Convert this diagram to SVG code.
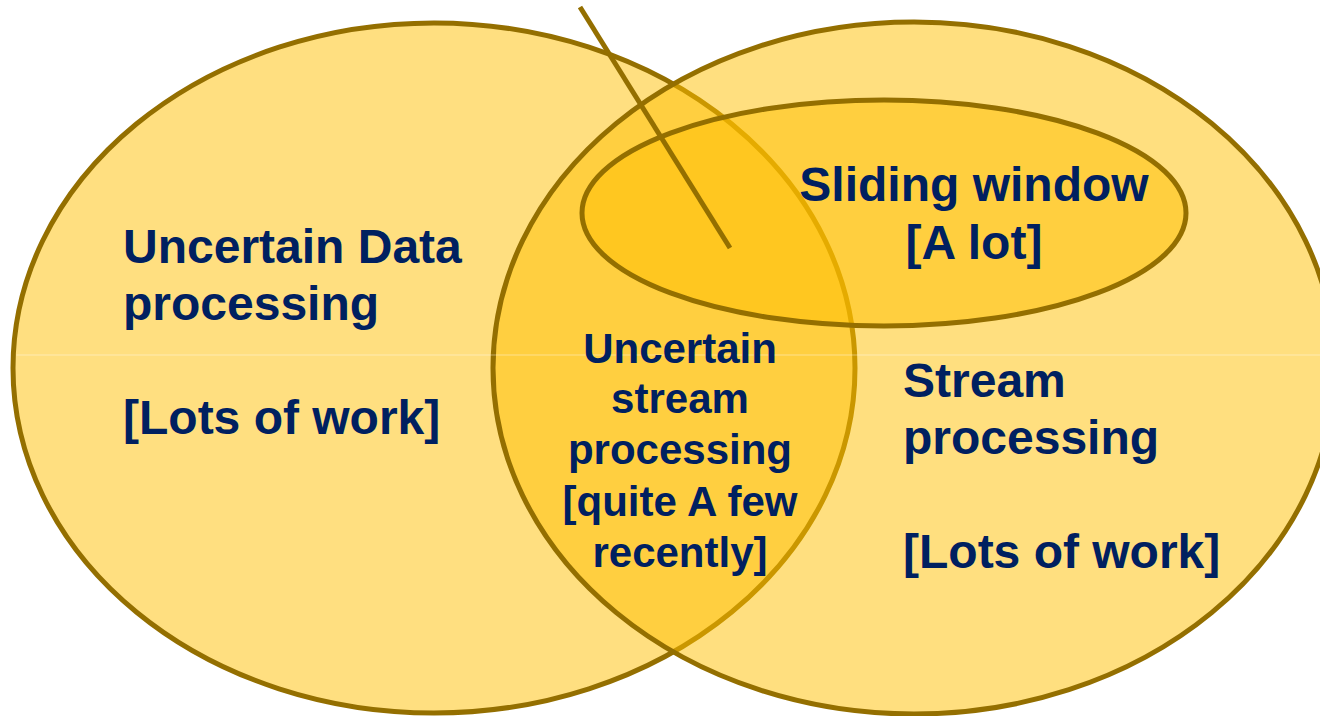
<svg xmlns="http://www.w3.org/2000/svg" width="1320" height="716" viewBox="0 0 1320 716">
<style>
.set{stroke:#946F00;stroke-width:5}
.lbl{font-family:"Liberation Sans",Arial,sans-serif;font-weight:bold;font-size:48px;fill:#002060}
.mid{font-size:42px;text-anchor:middle}
.ctr{text-anchor:middle}
</style>
<defs>
<clipPath id="union">
<ellipse cx="434" cy="368" rx="418" ry="342"/>
<ellipse cx="914" cy="368" rx="418" ry="343"/>
</clipPath>
</defs>
<rect width="1320" height="716" fill="#ffffff"/>
<g id="uncertain-data">
<ellipse class="set" cx="434" cy="368" rx="421" ry="345" fill="#FFDF80"/>
</g>
<g id="stream">
<ellipse class="set" cx="914" cy="368" rx="421" ry="346" fill="#FFC000" fill-opacity="0.5"/>
</g>
<g id="sliding-window">
<ellipse class="set" cx="884" cy="213" rx="302" ry="113" fill="#FFC000" fill-opacity="0.5"/>
</g>
<line x1="0" y1="355" x2="1320" y2="355" stroke="#ffffff" stroke-opacity="0.4" stroke-width="1" clip-path="url(#union)"/>
<g id="connectors">
<line x1="580" y1="7" x2="730" y2="248" stroke="#946F00" stroke-width="5"/>
</g>
<g id="label-uncertain-data">
<text class="lbl" x="123" y="263">Uncertain Data</text>
<text class="lbl" x="123" y="320">processing</text>
<text class="lbl" x="123" y="434">[Lots of work]</text>
</g>
<g id="label-sliding-window">
<text class="lbl ctr" x="974" y="201">Sliding window</text>
<text class="lbl ctr" x="974" y="259">[A lot]</text>
</g>
<g id="label-uncertain-stream">
<text class="lbl mid" x="680" y="363">Uncertain</text>
<text class="lbl mid" x="680" y="413">stream</text>
<text class="lbl mid" x="680" y="464">processing</text>
<text class="lbl mid" x="680" y="516">[quite A few</text>
<text class="lbl mid" x="680" y="567">recently]</text>
</g>
<g id="label-stream">
<text class="lbl" x="903" y="397">Stream</text>
<text class="lbl" x="903" y="454">processing</text>
<text class="lbl" x="903" y="568">[Lots of work]</text>
</g>
</svg>
